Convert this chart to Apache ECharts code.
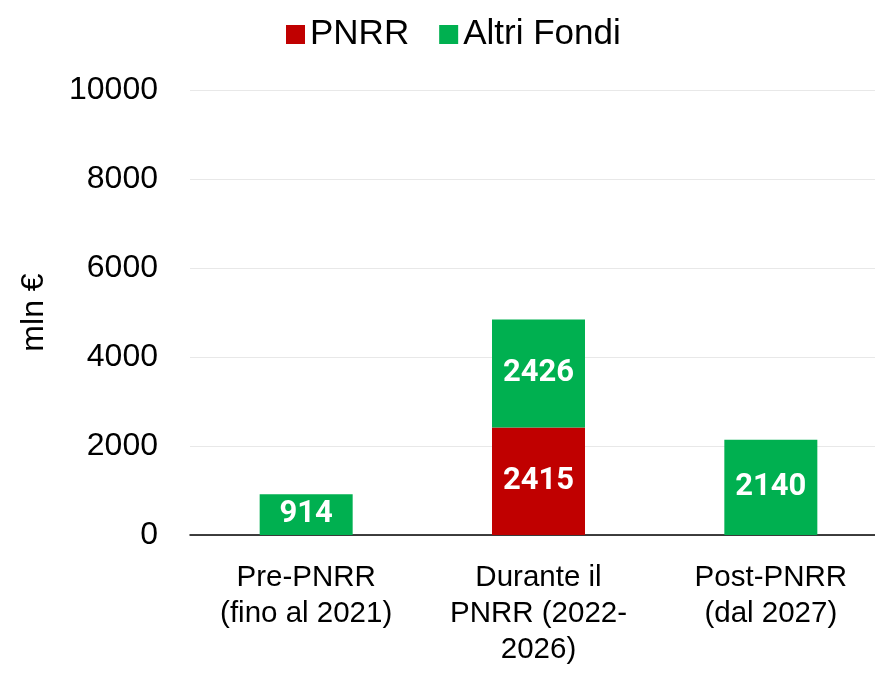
<!DOCTYPE html>
<html>
<head>
<meta charset="utf-8">
<script src="https://cdn.jsdelivr.net/npm/echarts@6/dist/echarts.min.js"></script>
<style>
html, body { margin: 0; padding: 0; background: #fff; }
#chart { width: 875px; height: 673px; }
</style>
</head>
<body>
<div id="chart"></div>
<script>
// dati del grafico
var categorie = ['Pre-PNRR\n(fino al 2021)', 'Durante il\nPNRR (2022-\n2026)', 'Post-PNRR\n(dal 2027)'];
var pnrr = [0, 2415, 0];
var altriFondi = [914, 2426, 2140];
var yTicks = [0, 2000, 4000, 6000, 8000, 10000];

var chart = echarts.init(document.getElementById('chart'));

var labelBarra = {
	show : true,
	position : 'inside',
	color : '#fff',
	fontFamily : 'Roboto',
	fontWeight : 'bold',
	fontSize : 31,
	formatter : function(p) {
		return p.value ? String(p.value) : '';
	}
};

var option = {
	animation : false,
	textStyle : { fontFamily : 'Liberation Sans' },
	legend : {
		top : 12,
		left : 281,
		itemWidth : 19,
		itemHeight : 19,
		itemGap : 30,
		icon : 'rect',
		textStyle : { fontSize : 35, color : '#000', fontFamily : 'Liberation Sans' },
		data : [ 'PNRR', 'Altri Fondi' ]
	},
	grid : {
		left : 190,
		top : 90,
		width : 697,
		height : 445,
		containLabel : false,
		outerBoundsMode : 'none'
	},
	xAxis : {
		type : 'category',
		data : categorie,
		axisLine : { lineStyle : { color : '#000', width : 1.5 } },
		axisTick : { show : false },
		axisLabel : {
			color : '#000',
			fontSize : 29.5,
			lineHeight : 36,
			margin : 25,
			interval : 0,
			fontFamily : 'Liberation Sans'
		}
	},
	yAxis : {
		type : 'value',
		min : yTicks[0],
		max : yTicks[yTicks.length - 1],
		interval : 2000,
		name : 'mln €',
		nameLocation : 'middle',
		nameGap : 140,
		nameTextStyle : { fontSize : 32, color : '#000', fontFamily : 'Liberation Sans' },
		axisLine : { show : false },
		axisTick : { show : false },
		axisLabel : {
			color : '#000',
			fontSize : 32,
			margin : 32,
			fontFamily : 'Liberation Sans',
			formatter : function(v) { return String(v); }
		},
		splitLine : { lineStyle : { color : '#e8e8e8', width : 1 } }
	},
	series : [
		{
			name : 'PNRR',
			type : 'bar',
			stack : 'tot',
			barWidth : 93,
			itemStyle : { color : '#C00000' },
			label : labelBarra,
			data : pnrr
		},
		{
			name : 'Altri Fondi',
			type : 'bar',
			stack : 'tot',
			barWidth : 93,
			itemStyle : { color : '#00B050' },
			label : labelBarra,
			data : altriFondi
		}
	]
};

chart.setOption(option);
</script>
</body>
</html>
